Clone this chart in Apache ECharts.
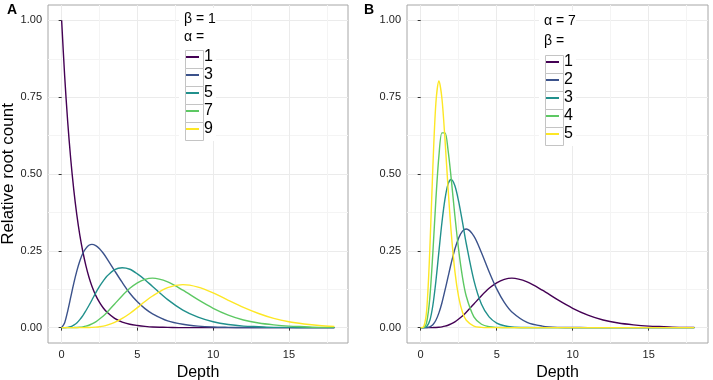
<!DOCTYPE html>
<html>
<head>
<meta charset="utf-8">
<script src="https://cdn.jsdelivr.net/npm/echarts@6/dist/echarts.min.js"></script>
<style>
  html, body { margin: 0; padding: 0; background: #fff; }
  #chart { width: 713px; height: 380px; }
</style>
</head>
<body>
<div id="chart"></div>
<script>
// depth positions shared by every curve
var depth = [0, 0.2, 0.4, 0.6, 0.8, 1, 1.2, 1.4, 1.6, 1.8, 2, 2.25, 2.5, 2.75, 3, 3.5, 4, 4.5, 5, 5.5, 6, 7, 8, 9, 10, 11, 12, 13, 14, 15, 16, 17, 18];

// panel A: beta = 1, alpha varies
var alphaA = ['1', '3', '5', '7', '9'];
var a1 = [1, 0.819, 0.670, 0.549, 0.449, 0.368, 0.301, 0.247, 0.202, 0.165, 0.135, 0.105, 0.082, 0.064, 0.050, 0.030, 0.018, 0.011, 0.007, 0.004, 0.002, 0.001, 0, 0, 0, 0, 0, 0, 0, 0, 0, 0, 0];
var a3 = [0, 0.016, 0.054, 0.099, 0.144, 0.184, 0.217, 0.242, 0.258, 0.268, 0.271, 0.267, 0.257, 0.242, 0.224, 0.185, 0.147, 0.112, 0.084, 0.062, 0.045, 0.022, 0.011, 0.005, 0.002, 0.001, 0.0004, 0.0002, 0.0001, 0, 0, 0, 0];
var a5 = [0, 0.0001, 0.0007, 0.003, 0.008, 0.015, 0.026, 0.039, 0.055, 0.072, 0.090, 0.113, 0.134, 0.152, 0.168, 0.189, 0.195, 0.190, 0.175, 0.156, 0.134, 0.091, 0.057, 0.034, 0.019, 0.010, 0.005, 0.003, 0.001, 0.0007, 0.0003, 0.0001, 0.0001];
var a7 = [0, 0, 0, 0, 0.0002, 0.0005, 0.0012, 0.0026, 0.0047, 0.0078, 0.012, 0.019, 0.028, 0.038, 0.050, 0.077, 0.104, 0.128, 0.146, 0.157, 0.161, 0.149, 0.122, 0.091, 0.063, 0.041, 0.025, 0.015, 0.009, 0.005, 0.003, 0.001, 0.0007];
var a9 = [0, 0, 0, 0, 0, 0, 0, 0.0001, 0.0002, 0.0005, 0.0009, 0.0017, 0.003, 0.005, 0.008, 0.017, 0.030, 0.046, 0.065, 0.085, 0.103, 0.130, 0.140, 0.132, 0.113, 0.089, 0.066, 0.046, 0.030, 0.019, 0.012, 0.007, 0.004];

// panel B: alpha = 7, beta varies
var betaB = ['1', '2', '3', '4', '5'];
var b1 = [0, 0, 0, 0, 0.0002, 0.0005, 0.0012, 0.0026, 0.0047, 0.0078, 0.012, 0.019, 0.028, 0.038, 0.050, 0.077, 0.104, 0.128, 0.146, 0.157, 0.161, 0.149, 0.122, 0.091, 0.063, 0.041, 0.025, 0.015, 0.009, 0.005, 0.003, 0.001, 0.0007];
var b2 = [0, 0, 0.0003, 0.0025, 0.0094, 0.024, 0.048, 0.081, 0.122, 0.165, 0.208, 0.256, 0.292, 0.314, 0.321, 0.298, 0.244, 0.182, 0.126, 0.082, 0.051, 0.017, 0.005, 0.001, 0.0004, 0.0001, 0, 0, 0, 0, 0, 0, 0];
var b3 = [0, 0.0001, 0.0037, 0.023, 0.072, 0.151, 0.248, 0.343, 0.419, 0.467, 0.482, 0.462, 0.410, 0.343, 0.273, 0.154, 0.076, 0.035, 0.015, 0.006, 0.002, 0.0003, 0, 0, 0, 0, 0, 0, 0, 0, 0, 0, 0];
var b4 = [0, 0.0007, 0.019, 0.096, 0.243, 0.417, 0.559, 0.634, 0.634, 0.578, 0.489, 0.364, 0.252, 0.164, 0.102, 0.035, 0.011, 0.003, 0.0007, 0.0002, 0, 0, 0, 0, 0, 0, 0, 0, 0, 0, 0, 0, 0];
var b5 = [0, 0.0026, 0.060, 0.252, 0.521, 0.731, 0.803, 0.745, 0.611, 0.455, 0.315, 0.183, 0.099, 0.050, 0.024, 0.005, 0.0009, 0.0001, 0, 0, 0, 0, 0, 0, 0, 0, 0, 0, 0, 0, 0, 0, 0];

var xTicks = [0, 5, 10, 15];
var xMinor = [2.5, 7.5, 12.5, 17.5];
var yTicks = [0, 0.25, 0.5, 0.75, 1];
var yMinor = [0.125, 0.375, 0.625, 0.875];

var viridis = ['#440154', '#3B528B', '#21908C', '#5DC863', '#FDE725'];
var font = 'Liberation Sans, Arial, sans-serif';

function pairs(vals) {
  return depth.map(function (d, i) { return [d, vals[i]]; });
}

function xAxes(g) {
  return [{
    gridIndex: g, type: 'value', min: -0.9, max: 18.9, position: 'bottom',
    name: 'Depth', nameLocation: 'middle', nameGap: 15,
    nameTextStyle: { fontFamily: font, fontSize: 16, color: '#000' },
    axisLine: { show: false },
    axisTick: { show: true, length: 3, customValues: xTicks, lineStyle: { color: '#333' } },
    axisLabel: { customValues: xTicks, margin: 6, fontFamily: font, fontSize: 11, color: '#222' },
    splitLine: { show: true, lineStyle: { color: '#ebebeb', width: 1 } }
  }, {
    gridIndex: g, type: 'value', min: -0.9, max: 18.9, position: 'bottom',
    axisLine: { show: false },
    axisTick: { show: false, customValues: xMinor },
    axisLabel: { show: false, customValues: xMinor },
    splitLine: { show: true, lineStyle: { color: '#f4f4f4', width: 1 } }
  }];
}

function yAxes(g, name) {
  return [{
    gridIndex: g, type: 'value', min: -0.05, max: 1.05, position: 'left',
    name: name, nameLocation: 'middle', nameGap: 28,
    nameTextStyle: { fontFamily: font, fontSize: 17, color: '#000' },
    axisLine: { show: false },
    axisTick: { show: true, length: 3, customValues: yTicks, lineStyle: { color: '#333' } },
    axisLabel: {
      customValues: yTicks, margin: 6, fontFamily: font, fontSize: 11, color: '#222',
      formatter: function (v) { return v.toFixed(2); }
    },
    splitLine: { show: true, lineStyle: { color: '#ebebeb', width: 1 } }
  }, {
    gridIndex: g, type: 'value', min: -0.05, max: 1.05, position: 'left',
    axisLine: { show: false },
    axisTick: { show: false, customValues: yMinor },
    axisLabel: { show: false, customValues: yMinor },
    splitLine: { show: true, lineStyle: { color: '#f4f4f4', width: 1 } }
  }];
}

var seriesA = [a1, a3, a5, a7, a9];
var seriesB = [b1, b2, b3, b4, b5];
var series = [];
seriesA.forEach(function (vals, i) {
  series.push({
    name: 'a' + alphaA[i], type: 'line', xAxisIndex: 0, yAxisIndex: 0,
    data: pairs(vals), smooth: 0.3, showSymbol: false, symbol: 'none',
    lineStyle: { width: 1.4, color: viridis[i] }, itemStyle: { color: viridis[i] }, z: 3
  });
});
seriesB.forEach(function (vals, i) {
  series.push({
    name: 'b' + betaB[i], type: 'line', xAxisIndex: 2, yAxisIndex: 2,
    data: pairs(vals), smooth: 0.3, showSymbol: false, symbol: 'none',
    lineStyle: { width: 1.4, color: viridis[i] }, itemStyle: { color: viridis[i] }, z: 3
  });
});

function legend(names, left, top) {
  return {
    data: names, orient: 'vertical', left: left, top: top, padding: 0, itemGap: 0,
    icon: 'rect', itemWidth: 14, itemHeight: 2,
    textStyle: { fontFamily: font, fontSize: 16, color: '#000', lineHeight: 18 },
    formatter: function (n) { return n.slice(1); },
    selectedMode: false
  };
}

// white legend panel, key boxes and legend titles
var graphic = [];
function legendDecor(x, y0, rowH, bg, t1, t1y, t2, t2y) {
  graphic.push({ type: 'rect', left: bg[0], top: bg[1], shape: { width: bg[2], height: bg[3] }, style: { fill: '#fff' }, z: 1 });
  for (var i = 0; i < 5; i++) {
    graphic.push({ type: 'rect', left: x, top: y0 + rowH * i, shape: { width: 18, height: rowH }, style: { fill: 'none', stroke: '#c4c4c4', lineWidth: 1 }, z: 10 });
  }
  graphic.push({ type: 'text', left: x + 1, top: t1y, style: { text: t1, font: '14px ' + font, fill: '#000' }, z: 10 });
  graphic.push({ type: 'text', left: x + 1, top: t2y, style: { text: t2, font: '14px ' + font, fill: '#000' }, z: 10 });
}
legendDecor(183, 48, 18, [179, 8, 37, 133], 'β = 1', 12, 'α =', 30);
legendDecor(543, 53, 18, [539, 11, 37, 135], 'α = 7', 14, 'β =', 34);
graphic.push({ type: 'text', left: 7, top: 3, style: { text: 'A', font: 'bold 14px ' + font, fill: '#000' }, z: 10 });
graphic.push({ type: 'text', left: 364, top: 3, style: { text: 'B', font: 'bold 14px ' + font, fill: '#000' }, z: 10 });

var chart = echarts.init(document.getElementById('chart'), null, { renderer: 'canvas' });
chart.setOption({
  animation: false,
  backgroundColor: '#fff',
  grid: [
    { left: 48, right: 365, top: 5, bottom: 37, outerBoundsMode: 'none', show: true, borderColor: '#a6a6a6', borderWidth: 1, backgroundColor: '#fff' },
    { left: 407, right: 5, top: 5, bottom: 37, outerBoundsMode: 'none', show: true, borderColor: '#a6a6a6', borderWidth: 1, backgroundColor: '#fff' }
  ],
  xAxis: xAxes(0).concat(xAxes(1)),
  yAxis: yAxes(0, 'Relative root count').concat(yAxes(1, '')),
  legend: [
    legend(alphaA.map(function (a) { return 'a' + a; }), 185, 48),
    legend(betaB.map(function (b) { return 'b' + b; }), 545, 53)
  ],
  graphic: graphic,
  series: series
});
</script>
</body>
</html>
